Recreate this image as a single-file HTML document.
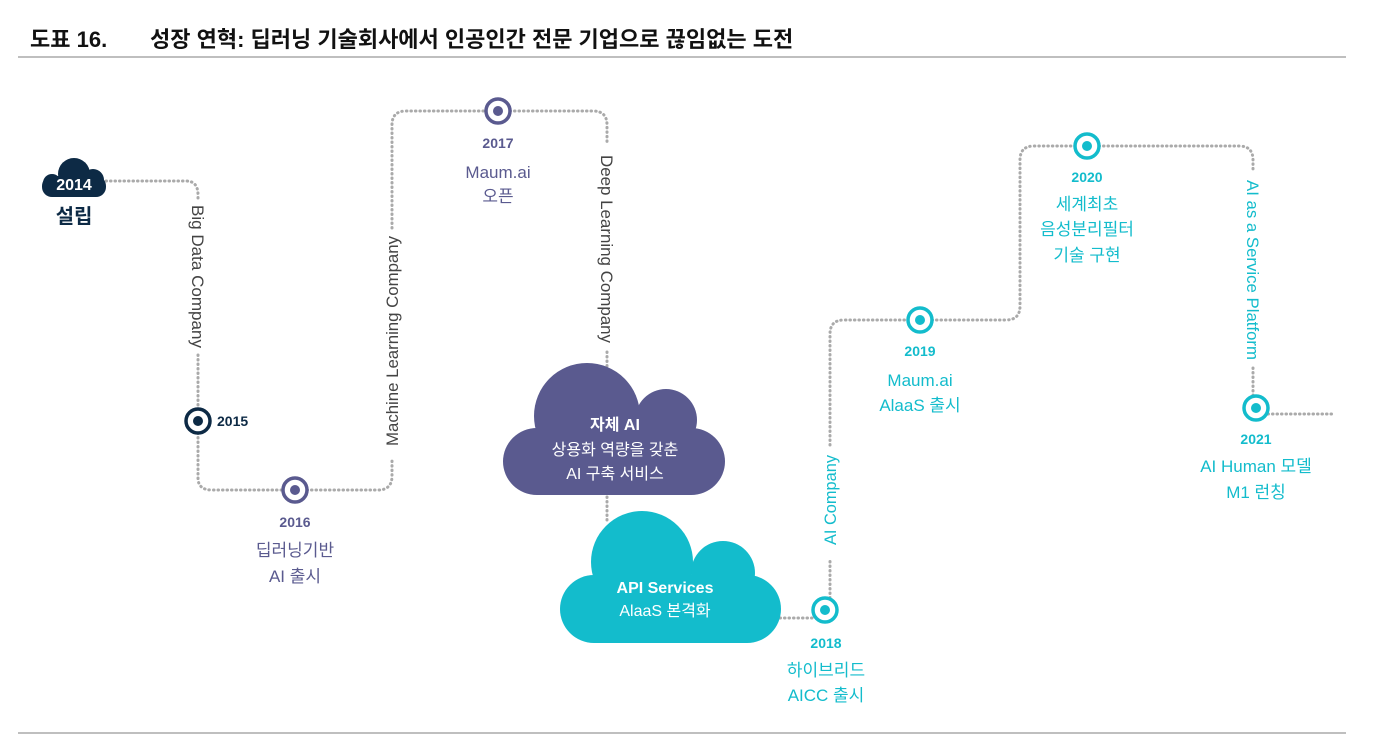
<!DOCTYPE html>
<html><head><meta charset="utf-8"><style>
html,body{margin:0;padding:0;background:#fff;}
svg{display:block;font-family:"Liberation Sans","Noto Sans CJK KR",sans-serif;}
</style></head><body>
<svg width="1394" height="740" viewBox="0 0 1394 740" xmlns="http://www.w3.org/2000/svg">
<text x="30" y="47" font-size="22" font-weight="bold" fill="#111">도표 16.</text>
<text x="150" y="47" font-size="22" font-weight="bold" fill="#111">성장 연혁: 딥러닝 기술회사에서 인공인간 전문 기업으로 끊임없는 도전</text>
<line x1="18" y1="57" x2="1346" y2="57" stroke="#aaa" stroke-width="1.5"/>
<line x1="18" y1="733" x2="1346" y2="733" stroke="#aaa" stroke-width="1.5"/>

<g fill="none" stroke="#aaa" stroke-width="3" stroke-dasharray="0.5 4" stroke-linecap="round">
<path d="M106 181 H186 Q198 181 198 195 V200"/>
<path d="M198 355 V409"/>
<path d="M198 433 V478 Q198 490 212 490 H283"/>
<path d="M307 490 H378 Q392 490 392 476 V458"/>
<path d="M392 228 V125 Q392 111 406 111 H486"/>
<path d="M510 111 H593 Q607 111 607 125 V145"/>
<path d="M607 352 V368"/>
<path d="M607 497 V520"/>
<path d="M780 618 H813"/>
<path d="M830 598 V560"/>
<path d="M830 445 V334 Q830 320 844 320 H908"/>
<path d="M932 320 H1006 Q1020 320 1020 306 V160 Q1020 146 1034 146 H1075"/>
<path d="M1099 146 H1239 Q1253 146 1253 160 V172"/>
<path d="M1253 368 V396"/>
<path d="M1268 414 H1332"/>
</g>

<g font-size="17" fill="#444">
<text transform="translate(192,205) rotate(90)" textLength="143" lengthAdjust="spacingAndGlyphs">Big Data Company</text>
<text transform="translate(398,446) rotate(-90)" textLength="210" lengthAdjust="spacingAndGlyphs">Machine Learning Company</text>
<text transform="translate(601,155) rotate(90)" textLength="188" lengthAdjust="spacingAndGlyphs">Deep Learning Company</text>
</g>
<text transform="translate(836,545) rotate(-90)" font-size="17" fill="#13bccc" textLength="90" lengthAdjust="spacingAndGlyphs">AI Company</text>
<text transform="translate(1247,180) rotate(90)" font-size="17" fill="#13bccc" textLength="180" lengthAdjust="spacingAndGlyphs">AI as a Service Platform</text>

<g fill="#0d2a45">
<circle cx="74" cy="174" r="16"/><circle cx="93" cy="180" r="11"/><circle cx="52" cy="183" r="9"/>
<rect x="42" y="176" width="64" height="21" rx="10"/>
</g>
<text x="74" y="190" font-size="16" font-weight="bold" fill="#fff" text-anchor="middle">2014</text>
<text x="74" y="223" font-size="20" font-weight="bold" fill="#0d2a45" text-anchor="middle">설립</text>

<g fill="#fff" stroke-width="3.5">
<circle cx="198" cy="421" r="12" stroke="#0d2a45"/>
<circle cx="295" cy="490" r="12" stroke="#5a5a8f"/>
<circle cx="498" cy="111" r="12" stroke="#5a5a8f"/>
<circle cx="825" cy="610" r="12" stroke="#13bccc"/>
<circle cx="920" cy="320" r="12" stroke="#13bccc"/>
<circle cx="1087" cy="146" r="12" stroke="#13bccc"/>
<circle cx="1256" cy="408" r="12" stroke="#13bccc"/>
</g>
<circle cx="198" cy="421" r="5" fill="#0d2a45"/>
<circle cx="295" cy="490" r="5" fill="#5a5a8f"/>
<circle cx="498" cy="111" r="5" fill="#5a5a8f"/>
<circle cx="825" cy="610" r="5" fill="#13bccc"/>
<circle cx="920" cy="320" r="5" fill="#13bccc"/>
<circle cx="1087" cy="146" r="5" fill="#13bccc"/>
<circle cx="1256" cy="408" r="5" fill="#13bccc"/>

<text x="217" y="426" font-size="14" font-weight="bold" fill="#0d2a45">2015</text>

<g text-anchor="middle" fill="#5a5a8f">
<text x="498" y="148" font-size="14" font-weight="bold">2017</text>
<text x="498" y="178" font-size="17">Maum.ai</text>
<text x="498" y="202" font-size="17">오픈</text>
<text x="295" y="527" font-size="14" font-weight="bold">2016</text>
<text x="295" y="556" font-size="17">딥러닝기반</text>
<text x="295" y="582" font-size="17">AI 출시</text>
</g>
<g text-anchor="middle" fill="#13bccc">
<text x="826" y="648" font-size="14" font-weight="bold">2018</text>
<text x="826" y="676" font-size="17">하이브리드</text>
<text x="826" y="701" font-size="17">AICC 출시</text>
<text x="920" y="356" font-size="14" font-weight="bold">2019</text>
<text x="920" y="386" font-size="17">Maum.ai</text>
<text x="920" y="411" font-size="17">AlaaS 출시</text>
<text x="1087" y="182" font-size="14" font-weight="bold">2020</text>
<text x="1087" y="210" font-size="17">세계최초</text>
<text x="1087" y="235" font-size="17">음성분리필터</text>
<text x="1087" y="261" font-size="17">기술 구현</text>
<text x="1256" y="444" font-size="14" font-weight="bold">2021</text>
<text x="1256" y="472" font-size="17">AI Human 모델</text>
<text x="1256" y="498" font-size="17">M1 런칭</text>
</g>

<g fill="#5a5a8f">
<circle cx="587" cy="416" r="53"/><circle cx="666" cy="420" r="31"/>
<rect x="503" y="428" width="222" height="67" rx="34"/>
</g>
<g text-anchor="middle" fill="#fff" font-size="16">
<text x="615" y="430" font-weight="bold">자체 AI</text>
<text x="615" y="455">상용화 역량을 갖춘</text>
<text x="615" y="479">AI 구축 서비스</text>
</g>
<g fill="#13bccc">
<circle cx="642" cy="562" r="51"/><circle cx="723" cy="573" r="32"/>
<rect x="560" y="575" width="221" height="68" rx="34"/>
</g>
<g text-anchor="middle" fill="#fff" font-size="16">
<text x="665" y="593" font-weight="bold">API Services</text>
<text x="665" y="616">AlaaS 본격화</text>
</g>
</svg>
</body></html>
